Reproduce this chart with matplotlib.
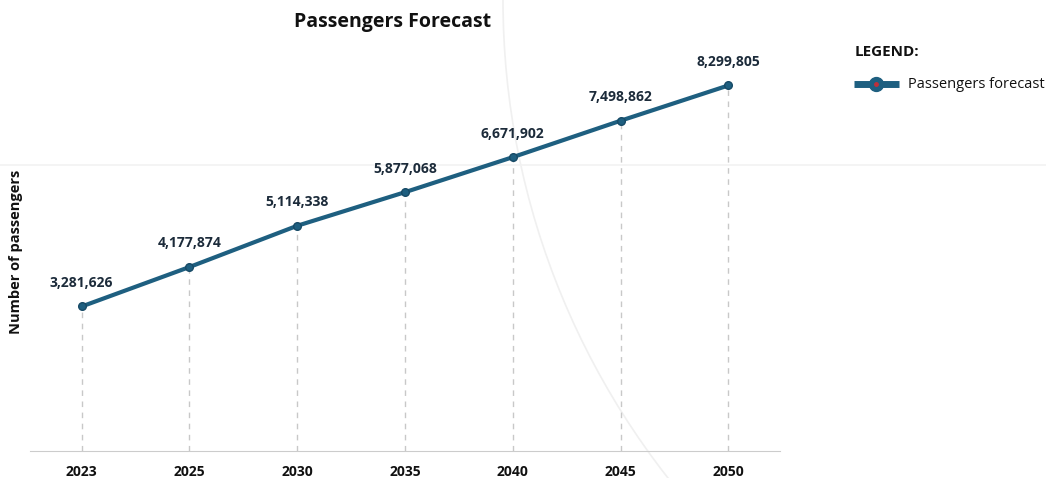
import matplotlib
matplotlib.use("Agg")
import matplotlib.pyplot as plt
from matplotlib.patches import Arc

years = ["2023", "2025", "2030", "2035", "2040", "2045", "2050"]
passengers = [3281626, 4177874, 5114338, 5877068, 6671902, 7498862, 8299805]

plt.rcParams['font.family'] = ['Open Sans', 'DejaVu Sans']

W, H = 1046, 478
fig = plt.figure(figsize=(W / 100, H / 100), dpi=100)

# faint decorative background
bg = fig.add_axes([0, 0, 1, 1], zorder=-10)
bg.set_xlim(0, W)
bg.set_ylim(H, 0)
bg.axis('off')
bg.plot([0, W], [165, 165], color='#f2f2f2', lw=1.2)
bg.add_patch(Arc((1278, 0), 1550, 1550, theta1=90, theta2=180, color='#f0f0f0', lw=1.2))

line_color = '#1e5f80'
ax_left, ax_right, ax_bottom = 30, 780, 451
ymax = 9.5e6
px_per_unit = 44.04 / 1e6
height_px = ymax * px_per_unit
ax = fig.add_axes([ax_left / W, (H - ax_bottom) / H, (ax_right - ax_left) / W, height_px / H])
ax.patch.set_alpha(0)

x = list(range(len(years)))
ax.vlines(x, 0, passengers, colors='#c8c8c8', linestyles=(0, (4, 4)), lw=1, zorder=1)
ax.plot(x, passengers, color=line_color, lw=3, marker='o', markersize=5.5,
        markerfacecolor=line_color, markeredgecolor='#174a66', zorder=3)
for xi, v in zip(x, passengers):
    ax.annotate(f"{v:,}", (xi, v), xytext=(0, 12), textcoords='offset points',
                ha='center', va='bottom', fontsize=10, fontweight='bold', color='#1c2b3a')

ax.set_xlim(-0.48, len(years) - 0.52)
ax.set_ylim(0, ymax)
ax.set_xticks(x)
ax.set_xticklabels(years, fontsize=10, fontweight='bold', color='#111111')
ax.tick_params(axis='x', length=0, pad=10)
ax.set_yticks([])
for s in ['top', 'right', 'left']:
    ax.spines[s].set_visible(False)
ax.spines['bottom'].set_color('#cccccc')
ax.set_ylabel("Number of passengers", fontsize=10.5, fontweight='bold', color='#111111')
ax.yaxis.set_label_coords(-7 / 750, (451 - 252) / height_px)

fig.text(393 / W, 1 - 22 / H, "Passengers Forecast", ha='center', va='center',
         fontsize=14, fontweight='bold', color='#111111')

# legend
fig.text(855 / W, 1 - 52 / H, "LEGEND:", ha='left', va='center', fontsize=11,
         fontweight='bold', color='#111111')
lg = fig.add_axes([0, 0, 1, 1], zorder=5)
lg.set_xlim(0, W)
lg.set_ylim(H, 0)
lg.axis('off')
lg.plot([854, 899], [84, 84], color=line_color, lw=5, solid_capstyle='butt')
lg.plot([876], [84], marker='o', markersize=10, color=line_color)
lg.plot([876], [84], marker='o', markersize=2.5, color='#c0303a')
lg.text(908, 84, "Passengers forecast", ha='left', va='center', fontsize=10.5, color='#111111')

fig.savefig("out.png", dpi=100)
